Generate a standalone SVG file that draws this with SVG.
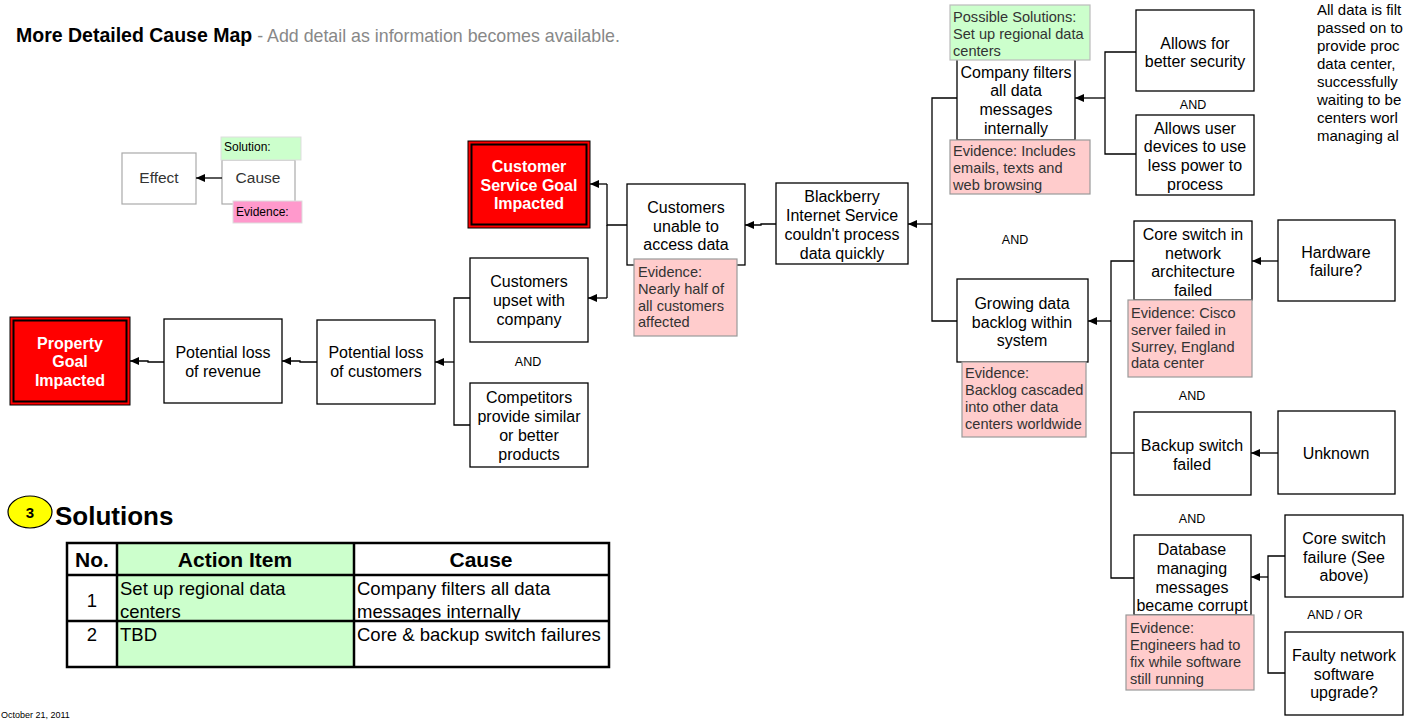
<svg xmlns="http://www.w3.org/2000/svg" width="1406" height="720" viewBox="0 0 1406 720">
<style>
text{font-family:"Liberation Sans",Arial,sans-serif;}
.n{fill:#fff;stroke:#000;stroke-width:1.3;}
.t{font-size:16px;fill:#000;text-anchor:middle;}
.ev{fill:#ffcccc;stroke:#999;stroke-width:1.2;}
.et{font-size:14.6px;fill:#333;}
.sol{fill:#ccffcc;stroke:#bbb;stroke-width:1.2;}
.red{fill:#ff0000;stroke:#000;stroke-width:1;}
.redin{fill:none;stroke:#000;stroke-width:2;}
.rt{font-size:16px;fill:#fff;font-weight:bold;text-anchor:middle;}
.and{font-size:12.5px;fill:#000;text-anchor:middle;}
.c{fill:none;stroke:#000;stroke-width:1.3;}
.lg{fill:#fff;stroke:#aaa;stroke-width:1.2;}
.tb{fill:none;stroke:#000;stroke-width:2.5;}
.th{font-size:21px;font-weight:bold;text-anchor:middle;}
.td{font-size:18.5px;}
</style>
<defs>
<marker id="ah" markerWidth="10" markerHeight="10" refX="9" refY="5" orient="auto" markerUnits="userSpaceOnUse">
<path d="M0,1 L9,5 L0,9 Z" fill="#000"/>
</marker>
</defs>
<rect width="1406" height="720" fill="#fff"/>

<g id="title">
<text x="16" y="42" style="font-size:19.5px;font-weight:bold">More Detailed Cause Map<tspan style="font-weight:normal;fill:#888;font-size:17.8px"> - Add detail as information becomes available.</tspan></text>
</g>

<g id="legend">
<rect class="lg" x="122" y="153" width="74" height="51"/>
<text x="159" y="183" style="font-size:15.5px;fill:#333;text-anchor:middle">Effect</text>
<rect class="lg" x="222" y="160" width="73" height="44"/>
<text x="258" y="183" style="font-size:15.5px;fill:#333;text-anchor:middle">Cause</text>
<rect x="221" y="137" width="80" height="23" fill="#ccffcc" stroke="#ddd"/>
<text x="224" y="151" style="font-size:12px">Solution:</text>
<rect x="233" y="201" width="69" height="22" fill="#ff99cc" stroke="#ddd"/>
<text x="236" y="216" style="font-size:12px">Evidence:</text>
<line class="c" x1="222" y1="178" x2="196" y2="178" marker-end="url(#ah)"/>
</g>

<g id="connectors">
<path class="c" d="M164,362 H148 V361 H130" marker-end="url(#ah)"/>
<path class="c" d="M317,362 H300 V361 H282" marker-end="url(#ah)"/>
<path class="c" d="M470,298 H454 V425 H470"/>
<line class="c" x1="454" y1="362" x2="435" y2="362" marker-end="url(#ah)"/>
<path class="c" d="M627,225 H607 V184"/>
<line class="c" x1="607" y1="184" x2="590" y2="184" marker-end="url(#ah)"/>
<path class="c" d="M607,225 V298"/>
<line class="c" x1="607" y1="298" x2="588" y2="298" marker-end="url(#ah)"/>
<path class="c" d="M776,224 H761 V225 H745" marker-end="url(#ah)"/>
<path class="c" d="M957,98 H932 V321 H957"/>
<line class="c" x1="932" y1="224" x2="908" y2="224" marker-end="url(#ah)"/>
<path class="c" d="M1136,52 H1105 V154 H1136"/>
<line class="c" x1="1105" y1="98" x2="1075" y2="98" marker-end="url(#ah)"/>
<path class="c" d="M1134,261 H1111 V578 H1134"/>
<path class="c" d="M1111,453 H1134"/>
<line class="c" x1="1111" y1="321" x2="1088" y2="321" marker-end="url(#ah)"/>
<line class="c" x1="1278" y1="261" x2="1252" y2="261" marker-end="url(#ah)"/>
<line class="c" x1="1278" y1="453" x2="1251" y2="453" marker-end="url(#ah)"/>
<path class="c" d="M1285,556 H1268 V673 H1285"/>
<line class="c" x1="1268" y1="577" x2="1251" y2="577" marker-end="url(#ah)"/>
</g>

<g id="property-goal">
<rect class="red" x="10" y="317" width="120" height="88"/>
<rect class="redin" x="13.5" y="320.5" width="113" height="81"/>
<text class="rt" x="70" y="349">Property</text>
<text class="rt" x="70" y="367">Goal</text>
<text class="rt" x="70" y="386">Impacted</text>
</g>

<g id="loss-revenue">
<rect class="n" x="164" y="319" width="118" height="84"/>
<text class="t" x="223" y="358">Potential loss</text>
<text class="t" x="223" y="377">of revenue</text>
</g>

<g id="loss-customers">
<rect class="n" x="317" y="320" width="118" height="84"/>
<text class="t" x="376" y="358">Potential loss</text>
<text class="t" x="376" y="377">of customers</text>
</g>

<g id="customers-upset">
<rect class="n" x="470" y="258" width="118" height="84"/>
<text class="t" x="529" y="287">Customers</text>
<text class="t" x="529" y="306">upset with</text>
<text class="t" x="529" y="325">company</text>
</g>
<text class="and" x="528" y="366">AND</text>

<g id="competitors">
<rect class="n" x="470" y="383" width="118" height="84"/>
<text class="t" x="529" y="403">Competitors</text>
<text class="t" x="529" y="422">provide similar</text>
<text class="t" x="529" y="441">or better</text>
<text class="t" x="529" y="460">products</text>
</g>

<g id="customer-service-goal">
<rect class="red" x="468" y="141" width="122" height="87"/>
<rect class="redin" x="471.5" y="144.5" width="115" height="80"/>
<text class="rt" x="529" y="172">Customer</text>
<text class="rt" x="529" y="191">Service Goal</text>
<text class="rt" x="529" y="209">Impacted</text>
</g>

<g id="customers-unable">
<rect class="n" x="627" y="184" width="118" height="81"/>
<text class="t" x="686" y="213">Customers</text>
<text class="t" x="686" y="232">unable to</text>
<text class="t" x="686" y="250">access data</text>
<rect class="ev" x="634" y="259" width="103" height="77"/>
<text class="et" x="638" y="277">Evidence:</text>
<text class="et" x="638" y="294">Nearly half of</text>
<text class="et" x="638" y="311">all customers</text>
<text class="et" x="638" y="327">affected</text>
</g>

<g id="blackberry">
<rect class="n" x="776" y="183" width="132" height="81"/>
<text class="t" x="842" y="202">Blackberry</text>
<text class="t" x="842" y="221">Internet Service</text>
<text class="t" x="842" y="240">couldn't process</text>
<text class="t" x="842" y="259">data quickly</text>
</g>

<g id="company-filters">
<rect class="n" x="957" y="50" width="118" height="90"/>
<text class="t" x="1016" y="78">Company filters</text>
<text class="t" x="1016" y="96">all data</text>
<text class="t" x="1016" y="115">messages</text>
<text class="t" x="1016" y="134">internally</text>
<rect class="sol" x="950" y="5" width="140" height="55"/>
<text class="et" x="953" y="22">Possible Solutions:</text>
<text class="et" x="953" y="39">Set up regional data</text>
<text class="et" x="953" y="56">centers</text>
<rect class="ev" x="950" y="140" width="140" height="54"/>
<text class="et" x="953" y="156">Evidence:  Includes</text>
<text class="et" x="953" y="173">emails, texts and</text>
<text class="et" x="953" y="190">web browsing</text>
</g>

<g id="better-security">
<rect class="n" x="1136" y="10" width="118" height="81"/>
<text class="t" x="1195" y="49">Allows for</text>
<text class="t" x="1195" y="67">better security</text>
</g>
<text class="and" x="1193" y="109">AND</text>

<g id="less-power">
<rect class="n" x="1136" y="115" width="118" height="80"/>
<text class="t" x="1195" y="134">Allows user</text>
<text class="t" x="1195" y="152">devices to use</text>
<text class="t" x="1195" y="171">less power to</text>
<text class="t" x="1195" y="190">process</text>
</g>

<text class="and" x="1015" y="244">AND</text>

<g id="growing-backlog">
<rect class="n" x="957" y="279" width="131" height="83"/>
<text class="t" x="1022" y="309">Growing data</text>
<text class="t" x="1022" y="328">backlog within</text>
<text class="t" x="1022" y="346">system</text>
<rect class="ev" x="962" y="362" width="124" height="75"/>
<text class="et" x="965" y="378">Evidence:</text>
<text class="et" x="965" y="395">Backlog cascaded</text>
<text class="et" x="965" y="412">into other data</text>
<text class="et" x="965" y="429">centers worldwide</text>
</g>

<g id="core-switch">
<rect class="n" x="1134" y="221" width="118" height="79"/>
<text class="t" x="1193" y="240">Core switch in</text>
<text class="t" x="1193" y="259">network</text>
<text class="t" x="1193" y="277">architecture</text>
<text class="t" x="1193" y="296">failed</text>
<rect class="ev" x="1128" y="300" width="124" height="77"/>
<text class="et" x="1131" y="318">Evidence:  Cisco</text>
<text class="et" x="1131" y="335">server failed in</text>
<text class="et" x="1131" y="352">Surrey, England</text>
<text class="et" x="1131" y="368">data center</text>
</g>

<g id="hardware-failure">
<rect class="n" x="1278" y="220" width="117" height="81"/>
<text class="t" x="1336" y="258">Hardware</text>
<text class="t" x="1336" y="276">failure?</text>
</g>

<text class="and" x="1192" y="400">AND</text>

<g id="backup-switch">
<rect class="n" x="1134" y="412" width="117" height="83"/>
<text class="t" x="1192" y="451">Backup switch</text>
<text class="t" x="1192" y="470">failed</text>
</g>

<g id="unknown">
<rect class="n" x="1278" y="411" width="117" height="83"/>
<text class="t" x="1336" y="459">Unknown</text>
</g>

<text class="and" x="1192" y="523">AND</text>

<g id="database-corrupt">
<rect class="n" x="1134" y="535" width="117" height="80"/>
<text class="t" x="1192" y="555">Database</text>
<text class="t" x="1192" y="574">managing</text>
<text class="t" x="1192" y="593">messages</text>
<text class="t" x="1192" y="611">became corrupt</text>
<rect class="ev" x="1126" y="615" width="128" height="75"/>
<text class="et" x="1130" y="633">Evidence:</text>
<text class="et" x="1130" y="650">Engineers had to</text>
<text class="et" x="1130" y="667">fix while software</text>
<text class="et" x="1130" y="684">still running</text>
</g>

<g id="core-switch-failure">
<rect class="n" x="1285" y="515" width="118" height="82"/>
<text class="t" x="1344" y="544">Core switch</text>
<text class="t" x="1344" y="563">failure (See</text>
<text class="t" x="1344" y="581">above)</text>
</g>

<text class="and" x="1335" y="619">AND / OR</text>

<g id="faulty-software">
<rect class="n" x="1285" y="632" width="118" height="83"/>
<text class="t" x="1344" y="661">Faulty network</text>
<text class="t" x="1344" y="680">software</text>
<text class="t" x="1344" y="698">upgrade?</text>
</g>

<g id="side-note" style="font-size:15px;fill:#000">
<text x="1317" y="15">All data is filt</text>
<text x="1317" y="33">passed on to</text>
<text x="1317" y="51">provide proc</text>
<text x="1317" y="69">data center,</text>
<text x="1317" y="87">successfully</text>
<text x="1317" y="105">waiting to be</text>
<text x="1317" y="123">centers worl</text>
<text x="1317" y="141">managing al</text>
</g>

<g id="solutions-heading">
<ellipse cx="30" cy="512" rx="22" ry="16" fill="#ffff00" stroke="#000" stroke-width="1.2"/>
<text x="30" y="518" style="font-size:15px;font-weight:bold;text-anchor:middle">3</text>
<text x="55" y="525" style="font-size:26px;font-weight:bold">Solutions</text>
</g>

<g id="solutions-table">
<rect x="117" y="543" width="237" height="124" fill="#ccffcc"/>
<rect class="tb" x="67" y="543" width="542" height="124"/>
<line class="tb" x1="117" y1="543" x2="117" y2="667"/>
<line class="tb" x1="354" y1="543" x2="354" y2="667"/>
<line class="tb" x1="67" y1="575" x2="609" y2="575"/>
<line class="tb" x1="67" y1="621" x2="609" y2="621"/>
<text class="th" x="92" y="567">No.</text>
<text class="th" x="235" y="567">Action Item</text>
<text class="th" x="481" y="567">Cause</text>
<text class="td" x="92" y="607" style="text-anchor:middle">1</text>
<text class="td" x="120" y="595">Set up regional data</text>
<text class="td" x="120" y="618">centers</text>
<text class="td" x="357" y="595">Company filters all data</text>
<text class="td" x="357" y="618">messages internally</text>
<text class="td" x="92" y="641" style="text-anchor:middle">2</text>
<text class="td" x="120" y="641">TBD</text>
<text class="td" x="357" y="641">Core &amp; backup switch failures</text>
</g>

<g id="footer">
<text x="1" y="718" style="font-size:9px;fill:#000">October 21, 2011</text>
</g>
</svg>
